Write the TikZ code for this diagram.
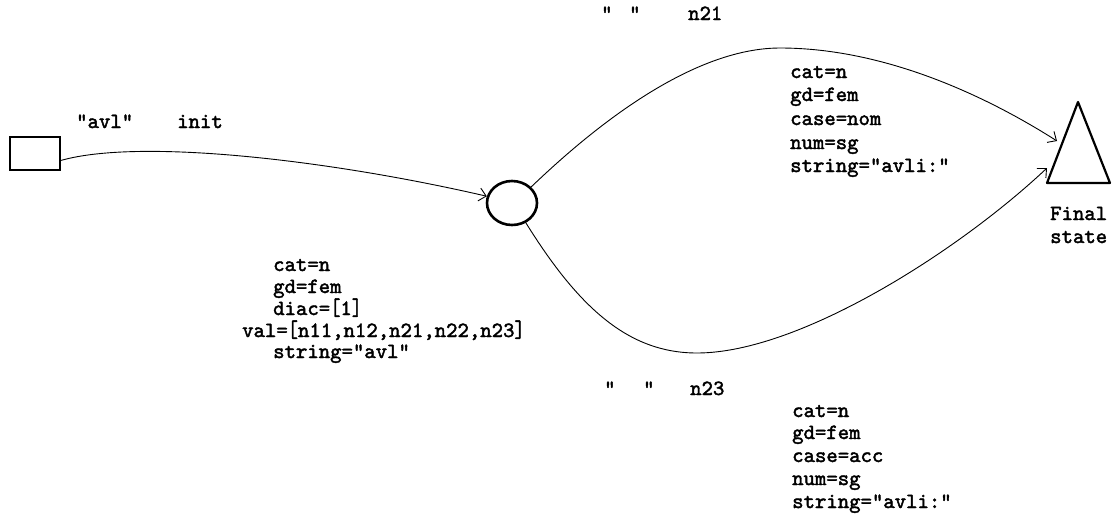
\documentclass[tikz,border=0pt]{standalone}
\usepackage{fontspec}
\usepackage{graphicx}
\usetikzlibrary{arrows.meta,shapes.geometric}
\newfontfamily\typewr[FakeBold=2]{lmmono10-regular.otf}
\newcommand\monofont{\typewr\fontsize{21.7}{23}\selectfont}
\newcommand\bbrk[1]{\scalebox{0.9}[1.1]{#1}}
\tikzset{
  txt/.style={font=\monofont, inner sep=0pt, anchor=base west},
  shape line/.style={draw, line width=2.2pt},
  conn/.style={line width=0.9pt, -{Straight Barb[length=7pt,width=13pt]}},
}
\begin{document}
\begin{tikzpicture}[x=1pt,y=-1pt]
\useasboundingbox (0,0) rectangle (1112,520);
% states
\node[shape line, rectangle, minimum width=50pt, minimum height=33pt, inner sep=0pt, line width=1.8pt] (box) at (35,153.5) {};
\node[shape line, ellipse, minimum width=50pt, minimum height=44pt, inner sep=0pt, line width=2.6pt] (mid) at (512,203) {};
\draw[line width=2.2pt, line join=round] (1078,102) -- (1110,183) -- (1047,183) -- cycle;
\coordinate (finA) at (1057,141);
\coordinate (finB) at (1047,168);
% connectors
\draw[conn] (box.-15) .. controls (140,138) and (330,160) .. (mid.165);
\draw[conn] (mid.40) .. controls (570,150) and (680,48) .. (780,48)
  .. controls (880,48) and (980,92) .. (finA);
\draw[conn] (mid.-55) .. controls (580,310) and (630,353) .. (697,353)
  .. controls (800,353) and (960,250) .. (finB);
% arc labels
\node[txt] (l1) at (76,128) {"avl"};
\node[txt] (l2) at (177,128) {init};
\node[txt] (q1) at (601,20) {"};
\node[txt] (q2) at (629,20) {"};
\node[txt] (n21) at (688,20) {n21};
\node[txt] (q3) at (604,395) {"};
\node[txt] (q4) at (643,395) {"};
\node[txt] (n23) at (690,395) {n23};
% left feature block
\node[txt] (a1) at (273,271) {cat=n};
\node[txt] (a2) at (273,293) {gd=fem};
\node[txt] (a3) at (273,315) {diac=\bbrk{[}1\bbrk{]}};
\node[txt] (a4) at (242,337) {val=\bbrk{[}n11,n12,n21,n22,n23\bbrk{]}};
\node[txt] (a5) at (273,358) {string="avl"};
% top feature block
\node[txt] (b1) at (790,78) {cat=n};
\node[txt] (b2) at (790,101) {gd=fem};
\node[txt] (b3) at (790,125) {case=nom};
\node[txt] (b4) at (790,149) {num=sg};
\node[txt] (b5) at (790,172) {string="avli:"};
% bottom feature block
\node[txt] (c1) at (792,417) {cat=n};
\node[txt] (c2) at (792,439) {gd=fem};
\node[txt] (c3) at (792,462) {case=acc};
\node[txt] (c4) at (792,485) {num=sg};
\node[txt] (c5) at (792,508) {string="avli:"};
% final state label
\node[txt] (f1) at (1050,220) {Final};
\node[txt] (f2) at (1050,243) {state};
\end{tikzpicture}
\end{document}
